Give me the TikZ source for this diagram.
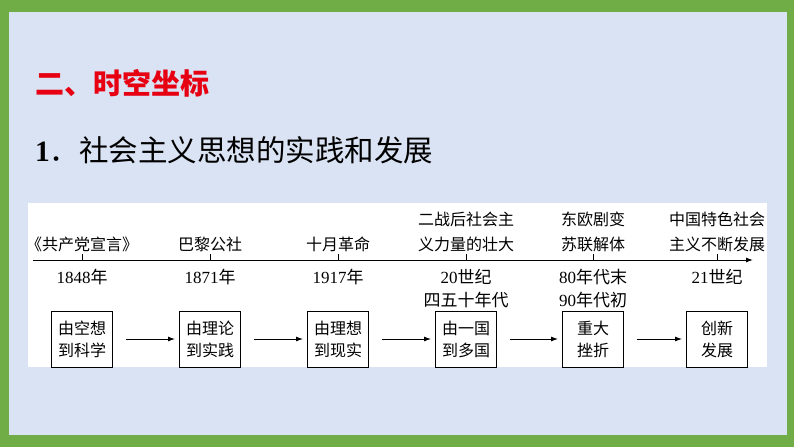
\documentclass[tikz,border=0pt]{standalone}
\usepackage{fontspec}
\setmainfont{Liberation Serif}
\newfontfamily\cjk{Noto Sans CJK SC}
\newcommand{\cn}[1]{{\cjk #1}}
\usetikzlibrary{positioning,arrows.meta,calc}
\definecolor{frame}{HTML}{70AD47}
\definecolor{sheet}{HTML}{DAE3F3}
\definecolor{headred}{HTML}{E60012}

\begin{document}
\begin{tikzpicture}[x=1pt,y=-1pt,
  stage/.style={draw,line width=1pt,fill=white,minimum width=61pt,minimum height=56pt,align=center,inner sep=0pt,font=\cjk\fontsize{16}{22}\selectfont},
  event/.style={align=center,inner sep=0pt,font=\cjk\fontsize{16}{25}\selectfont},
  year/.style={align=center,inner sep=0pt,font=\fontsize{17}{23}\selectfont},
  flow/.style={-{Latex[length=7pt,width=5pt]},line width=.9pt,shorten <=13pt,shorten >=4pt}]
\fill[frame] (0,0) rectangle (794,447);
\fill[sheet] (9,12) rectangle (787,435);
\fill[white] (28,203) rectangle (767,367);
\useasboundingbox (0,0) rectangle (794,447);
% headings
\node[anchor=west,inner sep=0pt,text=headred,font=\cjk\bfseries\fontsize{29}{29}\selectfont] (head) at (35,83) {二、时空坐标};
\node[anchor=west,inner sep=0pt,font=\fontsize{29.5}{30}\selectfont] (sub) at (35,150) {\textbf{1}\cn{．社会主义思想的实践和发展}};
% time axis
\coordinate (a0) at (33,260);\coordinate (a1) at (753,260);
\draw[-{Latex[length=7pt,width=5pt]},line width=1pt] (a0)--(a1);
\foreach \x [count=\i] in {82,210,338,466,593,717}{\coordinate (t\i) at (\x,260);\draw[line width=1pt] (t\i)--++(0,-6);}
\node[event,above=8pt of t1] (e1) {《共产党宣言》};
\node[event,above=8pt of t2] (e2) {巴黎公社};
\node[event,above=8pt of t3] (e3) {十月革命};
\node[event,above=8pt of t4] (e4) {二战后社会主\\义力量的壮大};
\node[event,above=8pt of t5] (e5) {东欧剧变\\苏联解体};
\node[event,above=8pt of t6] (e6) {中国特色社会\\主义不断发展};
\node[year,below=9pt of t1] (y1) {1848\cn{年}};
\node[year,below=9pt of t2] (y2) {1871\cn{年}};
\node[year,below=9pt of t3] (y3) {1917\cn{年}};
\node[year,below=9pt of t4] (y4) {20\cn{世纪}\\\cn{四五十年代}};
\node[year,below=9pt of t5] (y5) {80\cn{年代末}\\90\cn{年代初}};
\node[year,below=9pt of t6] (y6) {21\cn{世纪}};
% stages
\node[stage] (s1) at (82,339) {由空想\\到科学};
\node[stage] (s2) at (210,339) {由理论\\到实践};
\node[stage] (s3) at (338,339) {由理想\\到现实};
\node[stage] (s4) at (466,339) {由一国\\到多国};
\node[stage] (s5) at (593,339) {重大\\挫折};
\node[stage] (s6) at (717,339) {创新\\发展};
\draw[flow] (s1)--(s2);\draw[flow] (s2)--(s3);\draw[flow] (s3)--(s4);\draw[flow] (s4)--(s5);\draw[flow] (s5)--(s6);
\end{tikzpicture}
\end{document}
